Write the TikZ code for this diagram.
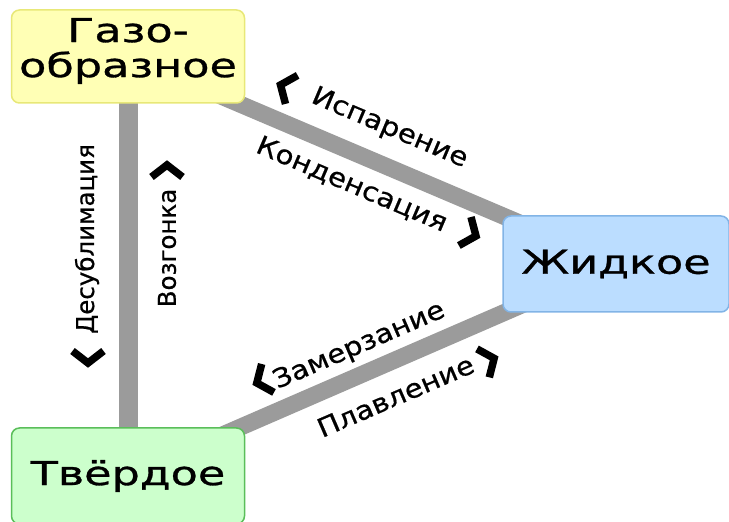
\documentclass[tikz,border=0pt]{standalone}
\usepackage{fontspec}
\setmainfont[FakeBold=0.6]{DejaVu Sans}
\newfontfamily\boxfont[FakeStretch=1.35, FakeBold=0.9]{DejaVu Sans}
\newfontfamily\slopefont[FakeStretch=1.12, FakeBold=0.7]{DejaVu Sans}
\usetikzlibrary{calc,backgrounds}

\definecolor{gasfill}{RGB}{255,255,181}
\definecolor{gasline}{RGB}{232,232,120}
\definecolor{liqfill}{RGB}{187,221,255}
\definecolor{liqline}{RGB}{130,180,230}
\definecolor{solfill}{RGB}{204,255,204}
\definecolor{solline}{RGB}{90,190,90}
\definecolor{linkgray}{RGB}{155,155,155}

\tikzset{
  state/.style={rounded corners=8pt, line width=1.5pt, inner sep=0pt,
    align=center, font=\boxfont\fontsize{33}{35}\selectfont},
  gasstate/.style={state, fill=gasfill, draw=gasline, minimum width=233, minimum height=93},
  liqstate/.style={state, fill=liqfill, draw=liqline, minimum width=226, minimum height=96},
  solstate/.style={state, fill=solfill, draw=solline, minimum width=233, minimum height=96},
  link/.style={draw=linkgray, line width=17pt},
  slopelab/.style={font=\slopefont\fontsize{26}{30}\selectfont, inner sep=0pt},
  uplab/.style={font=\fontsize{24.5}{28}\selectfont, inner sep=0pt, rotate=90},
  chevron/.pic={\draw[line width=7.5pt, line join=miter, miter limit=10]
    (-6,15.5) -- (6,0) -- (-6,-15.5);}
}

\begin{document}
\begin{tikzpicture}[x=1pt, y=1pt]
\useasboundingbox (0,0) rectangle (729,522);

% states of matter
\node[gasstate] (gas) at (128,465.5) {};
\node[state, anchor=center] (gastext) at (128,471) {Газо-\\образное};
\node[liqstate] (liq) at (616,258) {Жидкое};
\node[solstate] (sol) at (128,46) {Твёрдое};

% transitions between states
\begin{scope}[on background layer]
  \draw[link, line width=19pt] (gas.center) -- (sol.center);
  \draw[link] (gas.center) -- (liq.center);
  \draw[link] (sol.center) -- (liq.center);
\end{scope}

% gas <-> liquid
\node[slopelab, rotate=-23.04] (isp) at ($(gas.center)!0.507!(liq.center)!36pt!90:(liq.center)$) {Испарение};
\node[slopelab, rotate=-23.04] (kond) at ($(gas.center)!0.483!(liq.center)!-30.6pt!90:(liq.center)$) {Конденсация};
\pic[rotate=156.96] at ($(gas.center)!0.297!(liq.center)!33.5pt!90:(liq.center)$) {chevron};
\pic[rotate=-23.04] at ($(gas.center)!0.725!(liq.center)!-29pt!90:(liq.center)$) {chevron};

% solid <-> liquid
\node[slopelab, rotate=23.4] (zam) at ($(sol.center)!0.496!(liq.center)!27pt!90:(liq.center)$) {Замерзание};
\node[slopelab, rotate=23.4] (plav) at ($(sol.center)!0.521!(liq.center)!-33.4pt!90:(liq.center)$) {Плавление};
\pic[rotate=203.4] at ($(sol.center)!0.303!(liq.center)!34pt!90:(liq.center)$) {chevron};
\pic[rotate=23.4] at ($(sol.center)!0.708!(liq.center)!-38pt!90:(liq.center)$) {chevron};

% gas <-> solid
\node[uplab] (desub) at (87,283) {Десублимация};
\node[uplab] (vozg) at (167,274) {Возгонка};
\pic[rotate=-90] at (88,165) {chevron};
\pic[rotate=90] at (167,351) {chevron};
\end{tikzpicture}
\end{document}
